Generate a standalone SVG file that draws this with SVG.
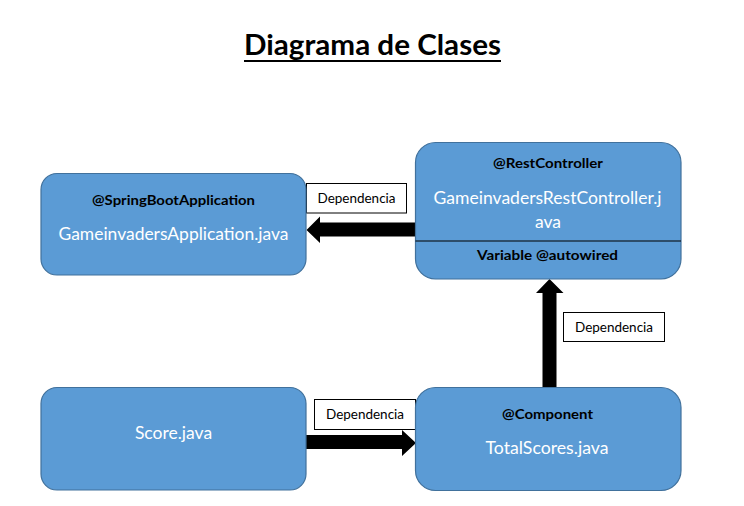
<svg xmlns="http://www.w3.org/2000/svg" width="744" height="506" viewBox="0 0 744 506">
<style>
.node{fill:#5B9BD5;stroke:#41719C;stroke-width:1.2}
.ann{font-family:Lato,"Open Sans","Liberation Sans",sans-serif;font-weight:bold;font-size:13.5px;fill:#000;text-anchor:middle}
.name{font-family:Lato,"Open Sans","Liberation Sans",sans-serif;font-size:17.5px;fill:#fff;text-anchor:middle}
.lbl{fill:#fff;stroke:#000;stroke-width:1}
.lbltxt{font-family:Lato,"Open Sans","Liberation Sans",sans-serif;font-size:12.5px;fill:#000;text-anchor:middle}
.arrow{fill:#000}
</style>
<rect width="744" height="506" fill="#fff"/>
<g id="title">
<text x="372.5" y="55" font-family="Lato,'Open Sans','Liberation Sans',sans-serif" font-weight="bold" font-size="28px" text-anchor="middle" textLength="257" lengthAdjust="spacingAndGlyphs">Diagrama de Clases</text>
<line x1="244" y1="61" x2="501" y2="61" stroke="#000" stroke-width="2"/>
</g>
<g id="connectors">
<polygon class="arrow" points="415,222.5 320,222.5 320,216.5 306.5,230 320,243 320,236.5 415,236.5"/>
<rect class="lbl" x="306.5" y="183.5" width="100" height="29.5"/>
<text class="lbltxt" x="356.5" y="203" textLength="78" lengthAdjust="spacingAndGlyphs">Dependencia</text>
<polygon class="arrow" points="542.5,387 542.5,293 536,293 549.5,279 563.5,293 556.5,293 556.5,387"/>
<rect class="lbl" x="563.5" y="312.5" width="101" height="29"/>
<text class="lbltxt" x="614" y="331.5" textLength="78" lengthAdjust="spacingAndGlyphs">Dependencia</text>
<polygon class="arrow" points="306,435 402,435 402,430 416,443 402,456 402,449 306,449"/>
<rect class="lbl" x="314.5" y="399.5" width="101" height="30"/>
<text class="lbltxt" x="365" y="418.5" textLength="78" lengthAdjust="spacingAndGlyphs">Dependencia</text>
</g>
<g id="node-app">
<rect class="node" x="41" y="173.5" width="265" height="101.5" rx="16"/>
<text class="ann" x="173.5" y="205" textLength="163" lengthAdjust="spacingAndGlyphs">@SpringBootApplication</text>
<text class="name" x="173.5" y="240" textLength="230" lengthAdjust="spacingAndGlyphs">GameinvadersApplication.java</text>
</g>
<g id="node-rest">
<rect class="node" x="415.5" y="142.5" width="265.5" height="136.5" rx="20"/>
<line x1="415.5" y1="241" x2="681" y2="241" stroke="#000" stroke-width="1.2"/>
<text class="ann" x="548" y="168" textLength="110" lengthAdjust="spacingAndGlyphs">@RestController</text>
<text class="name" x="547.5" y="204" textLength="228" lengthAdjust="spacingAndGlyphs">GameinvadersRestController.j</text>
<text class="name" x="548" y="228">ava</text>
<text class="ann" x="547.5" y="260" textLength="141" lengthAdjust="spacingAndGlyphs">Variable @autowired</text>
</g>
<g id="node-score">
<rect class="node" x="41" y="387.5" width="265" height="102.5" rx="16"/>
<text class="name" x="173.5" y="439">Score.java</text>
</g>
<g id="node-total">
<rect class="node" x="415.5" y="387.5" width="265.5" height="103" rx="20"/>
<text class="ann" x="547.5" y="419" textLength="91" lengthAdjust="spacingAndGlyphs">@Component</text>
<text class="name" x="547" y="454" textLength="123" lengthAdjust="spacingAndGlyphs">TotalScores.java</text>
</g>
</svg>
